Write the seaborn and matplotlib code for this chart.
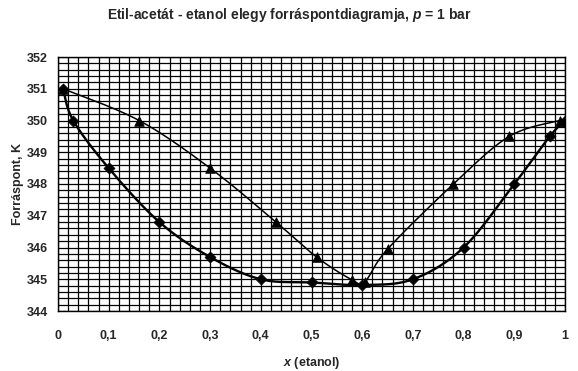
import numpy as np
import matplotlib
matplotlib.use("Agg")
import matplotlib.pyplot as plt
import seaborn as sns
from matplotlib.ticker import MultipleLocator, FuncFormatter

# liquid (diamonds) and vapour (triangles) boiling points
x_liquid = [0.01, 0.03, 0.10, 0.20, 0.30, 0.40, 0.50, 0.60, 0.70, 0.80, 0.90, 0.97, 1.00]
t_liquid = [351.0, 350.0, 348.5, 346.8, 345.7, 345.0, 344.9, 344.82, 345.0, 346.0, 348.0, 349.5, 350.0]
x_vapour = [0.01, 0.16, 0.30, 0.43, 0.51, 0.58, 0.605, 0.65, 0.78, 0.89, 0.99, 1.00]
t_vapour = [351.0, 350.0, 348.5, 346.8, 345.7, 344.98, 344.92, 345.95, 348.0, 349.5, 350.0, 350.0]

x_ticks = [0, 0.1, 0.2, 0.3, 0.4, 0.5, 0.6, 0.7, 0.8, 0.9, 1]
y_ticks = [344, 345, 346, 347, 348, 349, 350, 351, 352]


def smooth(xs, ys, n=30):
    # Excel-style smoothed line (Bezier through the points)
    p = np.column_stack([xs, ys]).astype(float)
    p = np.vstack([p[0], p, p[-1]])
    out = []
    for i in range(1, len(p) - 2):
        p0, p1, p2, p3 = p[i - 1], p[i], p[i + 1], p[i + 2]
        c1 = p1 + (p2 - p0) / 6
        c2 = p2 - (p3 - p1) / 6
        t = np.linspace(0, 1, n)[:, None]
        out.append((1 - t) ** 3 * p1 + 3 * (1 - t) ** 2 * t * c1 + 3 * (1 - t) * t ** 2 * c2 + t ** 3 * p2)
    out = np.vstack(out)
    return out[:, 0], out[:, 1]


sns.set_style("white")
plt.rcParams["font.family"] = ["Liberation Sans", "DejaVu Sans"]
plt.rcParams["mathtext.fontset"] = "custom"
plt.rcParams["mathtext.it"] = "Liberation Sans:italic:bold"
plt.rcParams["mathtext.rm"] = "Liberation Sans:bold"

fig = plt.figure(figsize=(5.78, 3.71), dpi=100)
ax = fig.add_axes([58 / 578, 60 / 371, 507 / 578, 254 / 371])

lx, ly = smooth(x_liquid, t_liquid)
vx, vy = smooth(x_vapour, t_vapour)
ax.plot(lx, ly, color="black", lw=1.7, zorder=3)
ax.plot(vx, vy, color="black", lw=1.1, zorder=3)
sns.scatterplot(x=x_liquid, y=t_liquid, marker="D", s=32, color="black", edgecolor="black", ax=ax, zorder=4)
sns.scatterplot(x=x_vapour, y=t_vapour, marker="^", s=48, color="black", edgecolor="black", ax=ax, zorder=4)

ax.set_xlim(0, 1)
ax.set_ylim(344, 352)
ax.set_xticks(x_ticks)
ax.set_yticks(y_ticks)
ax.xaxis.set_minor_locator(MultipleLocator(0.02))
ax.yaxis.set_minor_locator(MultipleLocator(0.2))
ax.xaxis.set_major_formatter(FuncFormatter(lambda v, p: ("%g" % round(v, 2)).replace(".", ",")))
ax.grid(which="both", color="black", lw=0.9)
ax.set_axisbelow(True)
for s in ax.spines.values():
    s.set_color("black")
    s.set_linewidth(1.0)
ax.tick_params(which="major", direction="out", length=5, width=1, color="black", labelsize=9)
ax.tick_params(axis="x", pad=9)
ax.tick_params(axis="y", pad=2.5)
ax.tick_params(which="minor", length=0)
for lab in ax.get_xticklabels() + ax.get_yticklabels():
    lab.set_fontweight("bold")

ax.set_xlabel("$x$ (etanol)", fontsize=9, fontweight="bold")
ax.set_ylabel("Forráspont, K", fontsize=9, fontweight="bold")
ax.xaxis.set_label_coords(0.5, -0.175)
ax.yaxis.set_label_coords(-0.067, 0.5)
fig.suptitle("Etil-acetát - etanol elegy forráspontdiagramja, $p$ = 1 bar",
             fontsize=10, fontweight="bold", y=0.985)

fig.savefig("out.png", dpi=100, facecolor="white")
